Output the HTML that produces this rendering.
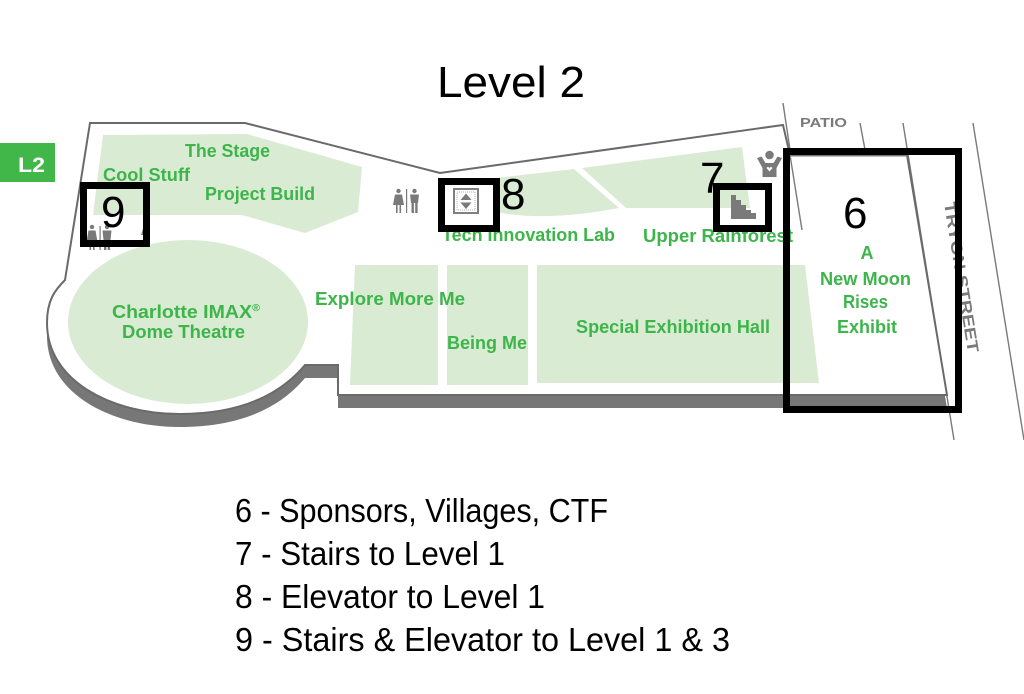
<!DOCTYPE html>
<html>
<head>
<meta charset="utf-8">
<style>
  html,body{margin:0;padding:0;background:#fff;}
  body{width:1024px;height:694px;overflow:hidden;}
  svg{display:block;}
  .g{font-family:"Liberation Sans",sans-serif;font-weight:bold;font-size:18px;fill:#3db54a;}
  .n{font-family:"Liberation Sans",sans-serif;font-size:44px;fill:#000;}
  .lg{font-family:"Liberation Sans",sans-serif;font-size:33px;fill:#000;}
</style>
</head>
<body>
<svg width="1024" height="694" viewBox="0 0 1024 694" xmlns="http://www.w3.org/2000/svg">
  <!-- Title -->
  <text class="n" x="437" y="97" textLength="148" lengthAdjust="spacingAndGlyphs">Level 2</text>

  <!-- L2 badge -->
  <rect x="0" y="143" width="55" height="39" fill="#41b649"/>
  <text x="18" y="172" font-family="Liberation Sans, sans-serif" font-weight="bold" font-size="21" fill="#fff" textLength="27" lengthAdjust="spacingAndGlyphs">L2</text>

  <!-- street / patio lines -->
  <g stroke="#7a7a7a" stroke-width="1.4" fill="none">
    <line x1="783" y1="103" x2="802" y2="230"/>
    <line x1="860" y1="123" x2="866" y2="155"/>
    <line x1="903" y1="123" x2="954" y2="440"/>
    <line x1="973" y1="123" x2="1024" y2="440"/>
  </g>

  <!-- floor shadow -->
  <path transform="translate(0,13)" fill="#777777" d="M90,123 L245,123 L440,173 L783,125 L790,155 L907,155 L947,395 L338,395 L338,365 L305,365 C280,395 240,414 180,414 C110,414 47,380 47,323 C47,300 55,290 65,280 Z"/>
  <!-- floor -->
  <path fill="#ffffff" stroke="#6a6a6a" stroke-width="2" stroke-linejoin="miter" d="M90,123 L245,123 L440,173 L783,125 L790,155 L907,155 L947,395 L338,395 L338,365 L305,365 C280,395 240,414 180,414 C110,414 47,380 47,323 C47,300 55,290 65,280 Z"/>
  <line x1="790" y1="155" x2="907" y2="155" stroke="#777" stroke-width="3"/>
  <line x1="790" y1="155" x2="802" y2="230" stroke="#7a7a7a" stroke-width="1.4"/>

  <!-- green areas -->
  <g fill="#d9ebd3">
    <polygon points="103,135 247,134 362,167 358,212 305,233 242,215 93,215"/>
    <ellipse cx="188" cy="322" rx="120" ry="82"/>
    <path d="M496,178 L574,169 L619,208 Q545,222 496,212 Z"/>
    <polygon points="582,168 742,147 750,208 626,208"/>
    <polygon points="355,265 438,265 438,385 350,385"/>
    <rect x="447" y="265" width="81" height="120"/>
    <polygon points="537,265 805,265 819,383 537,383"/>
  </g>

  <!-- green labels -->
  <text class="g" x="185" y="157" textLength="85" lengthAdjust="spacingAndGlyphs">The Stage</text>
  <text class="g" x="103" y="181" textLength="87" lengthAdjust="spacingAndGlyphs">Cool Stuff</text>
  <text class="g" x="205" y="200" textLength="110" lengthAdjust="spacingAndGlyphs">Project Build</text>
  <text class="g" x="112" y="318" textLength="148" lengthAdjust="spacingAndGlyphs">Charlotte  IMAX<tspan font-size="10" dy="-7">®</tspan></text>
  <text class="g" x="122" y="338" textLength="123" lengthAdjust="spacingAndGlyphs">Dome Theatre</text>
  <text class="g" x="315" y="305" textLength="150" lengthAdjust="spacingAndGlyphs">Explore More Me</text>
  <text class="g" x="447" y="349" textLength="80" lengthAdjust="spacingAndGlyphs">Being Me</text>
  <text class="g" x="576" y="333" textLength="194" lengthAdjust="spacingAndGlyphs">Special Exhibition Hall</text>
  <text class="g" x="442" y="241" textLength="173" lengthAdjust="spacingAndGlyphs">Tech Innovation Lab</text>
  <text class="g" x="643" y="242" textLength="150" lengthAdjust="spacingAndGlyphs">Upper Rainforest</text>
  <text class="g" x="867" y="259" text-anchor="middle">A</text>
  <text class="g" x="865.5" y="285" text-anchor="middle" textLength="91" lengthAdjust="spacingAndGlyphs">New Moon</text>
  <text class="g" x="865.5" y="308" text-anchor="middle" textLength="45" lengthAdjust="spacingAndGlyphs">Rises</text>
  <text class="g" x="867" y="333" text-anchor="middle" textLength="60" lengthAdjust="spacingAndGlyphs">Exhibit</text>

  <!-- PATIO / TRYON STREET -->
  <text x="800" y="127" font-family="Liberation Sans, sans-serif" font-weight="bold" font-size="13" fill="#7a7a7a" textLength="47" lengthAdjust="spacingAndGlyphs">PATIO</text>
  <text transform="translate(944,203) rotate(80.9)" x="0" y="0" font-family="Liberation Sans, sans-serif" font-weight="bold" font-size="16" fill="#7a7a7a" textLength="152" lengthAdjust="spacingAndGlyphs">TRYON STREET</text>

  <!-- icons -->
  <g fill="#7a7a7a">
    <!-- restroom near elevator -->
    <circle cx="398.5" cy="191" r="2.2"/>
    <polygon points="395,194.5 402,194.5 404,205 393,205"/>
    <rect x="396" y="205" width="1.6" height="8"/>
    <rect x="399.5" y="205" width="1.6" height="8"/>
    <rect x="406" y="189" width="1.2" height="24"/>
    <circle cx="414.5" cy="191" r="2.2"/>
    <polygon points="410,194.5 419,194.5 418,203 411,203"/>
    <rect x="411.5" y="203" width="2.4" height="10"/>
    <rect x="415.2" y="203" width="2.4" height="10"/>
    <!-- restroom in box 9 -->
    <circle cx="92" cy="227" r="2.2"/>
    <polygon points="88.5,230.5 95.5,230.5 97.5,242 86.5,242"/>
    <rect x="89.5" y="242" width="1.6" height="8"/>
    <rect x="93" y="242" width="1.6" height="8"/>
    <rect x="99.5" y="226" width="1.2" height="24"/>
    <circle cx="107" cy="227" r="2.2"/>
    <polygon points="102.5,230.5 111.5,230.5 110.5,240 103.5,240"/>
    <rect x="104" y="240" width="2.4" height="10"/>
    <rect x="107.7" y="240" width="2.4" height="10"/>
    <polygon points="141,235 145,222 145,235"/>
    <!-- elevator -->
    <rect x="454" y="189" width="24" height="24" fill="none" stroke="#808080" stroke-width="2"/>
    <rect x="457" y="192" width="18" height="18" fill="none" stroke="#b0b0b0" stroke-width="1" stroke-dasharray="1,1"/>
    <polygon points="466,193.5 460.5,200 471.5,200"/>
    <polygon points="460.5,202.5 471.5,202.5 466,209"/>
    <!-- stairs -->
    <polygon points="731,195 736,195 736,200 741,200 741,205 746,205 746,210 751,210 751,213 756,213 756,219 731,219"/>
    <!-- child icon -->
    <circle cx="769.5" cy="155" r="4.3"/>
    <path d="M757,158 L761.5,156.5 L765.5,163 L773.5,163 L777.5,156.5 L782,158 L776.5,168 L776.5,177 L762.5,177 L762.5,168 Z"/>
    <path d="M766.5,168 Q768,166 769.5,168 Q771,166 772.5,168 L769.5,171.5 Z" fill="#fff"/>
  </g>

  <!-- black boxes -->
  <g fill="none" stroke="#000" stroke-width="7">
    <rect x="83.5" y="185.5" width="63" height="58"/>
    <rect x="441.5" y="181.5" width="55" height="47"/>
    <rect x="716.5" y="186.5" width="52" height="42"/>
    <rect x="786.5" y="151.5" width="172" height="258"/>
  </g>

  <!-- numbers -->
  <text class="n" x="101" y="227">9</text>
  <text class="n" x="501" y="209">8</text>
  <text class="n" x="700" y="193">7</text>
  <text class="n" x="843" y="228">6</text>

  <!-- legend -->
  <text class="lg" x="235" y="522" textLength="373" lengthAdjust="spacingAndGlyphs">6 - Sponsors, Villages, CTF</text>
  <text class="lg" x="235" y="565" textLength="270" lengthAdjust="spacingAndGlyphs">7 - Stairs to Level 1</text>
  <text class="lg" x="235" y="608" textLength="310" lengthAdjust="spacingAndGlyphs">8 - Elevator to Level 1</text>
  <text class="lg" x="235" y="651" textLength="495" lengthAdjust="spacingAndGlyphs">9 - Stairs &amp; Elevator to Level 1 &amp; 3</text>
</svg>
</body>
</html>
